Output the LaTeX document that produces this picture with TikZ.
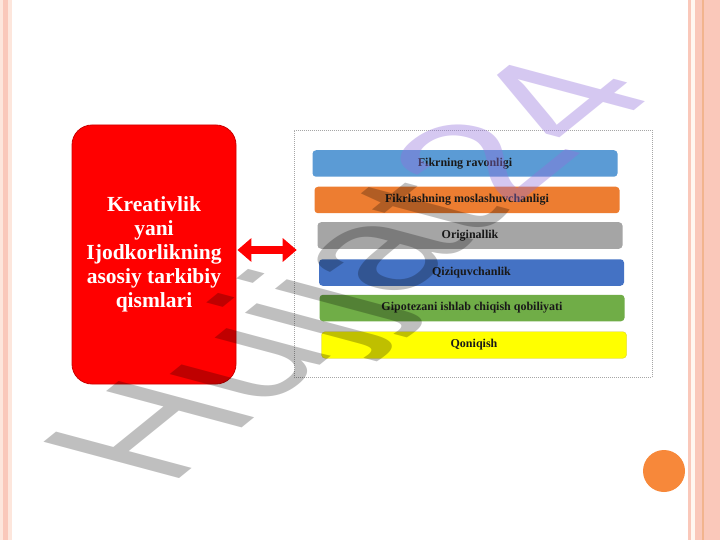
\documentclass[tikz,border=0pt]{standalone}
\usepackage{fontspec}
\setmainfont{Liberation Serif}
\newfontfamily\wmfont{Liberation Sans}
\usetikzlibrary{arrows.meta}
\definecolor{salmon1}{HTML}{FAC8BA}
\definecolor{salmonL}{HTML}{FDE6DC}
\definecolor{cream1}{HTML}{FFF7F0}
\definecolor{orline}{HTML}{F2B48E}
\definecolor{dotorange}{HTML}{F7883A}
\definecolor{boxred}{HTML}{FF0000}
\definecolor{cBlue}{HTML}{5B9BD5}
\definecolor{cOrange}{HTML}{ED7D31}
\definecolor{cGray}{HTML}{A5A5A5}
\definecolor{cDBlue}{HTML}{4472C4}
\definecolor{cGreen}{HTML}{70AD47}
\definecolor{cYellow}{HTML}{FFFF00}
\definecolor{wmpurple}{HTML}{9370DB}
\tikzset{
  redbox/.style={rectangle, rounded corners=20pt, fill=boxred, draw=boxred!80!black,
    line width=0.8pt, minimum width=164pt, minimum height=259pt, inner sep=0pt,
    text=white, align=center, font=\bfseries\fontsize{21.5}{24}\selectfont},
  framebox/.style={rectangle, draw=gray!70, line width=0.6pt, dash pattern=on 1pt off 1pt,
    minimum width=358pt, minimum height=247pt, inner sep=0pt},
  bar/.style={rectangle, rounded corners=3.5pt, minimum width=305pt, minimum height=26.5pt,
    inner sep=0pt, text=black!90, font=\bfseries\fontsize{12}{14}\selectfont},
  bigarrow/.style={draw=boxred, line width=7.5pt,
    {Triangle[length=14pt,width=23pt]}-{Triangle[length=14pt,width=23pt]}},
  wmark/.style={anchor=base west, inner sep=0pt, font=\wmfont\fontsize{100}{100}\selectfont,
    cm={1.345,1.089,-1.971,0.528,(0,0)}}
}
\begin{document}
\begin{tikzpicture}[x=1pt,y=-1pt]
\useasboundingbox (0,0) rectangle (720,540);
\fill[white] (0,0) rectangle (720,540);
% side borders
\fill[salmonL] (0,0) rectangle (3,540);
\fill[salmon1] (3,0) rectangle (7.5,540);
\fill[salmonL] (7.5,0) rectangle (12,540);
\fill[salmon1] (688,0) rectangle (720,540);
\fill[cream1] (690.5,0) rectangle (695,540);
\fill[orline] (701.5,0) rectangle (703.5,540);
% orange dot
\fill[dotorange] (664,471) circle[radius=21pt];
% main box
\node[redbox] (rb) at (154,254.5) {Kreativlik\\yani\\Ijodkorlikning\\asosiy tarkibiy\\qismlari};
% frame
\node[framebox] (fr) at (473,253.5) {};
% bars
\node[bar, fill=cBlue]   (b1) at (465,163.5) {Fikrning ravonligi};
\node[bar, fill=cOrange] (b2) at (467,200)   {Fikrlashning moslashuvchanligi};
\node[bar, fill=cGray]   (b3) at (470,235.5) {Originallik};
\node[bar, fill=cDBlue]  (b4) at (471.5,272.5) {Qiziquvchanlik};
\node[bar, fill=cGreen]  (b5) at (472,308)   {Gipotezani ishlab chiqish qobiliyati};
\node[bar, fill=cYellow, draw=yellow!80!black, line width=0.3pt] (b6) at (474,345) {Qoniqish};
% arrow
\draw[bigarrow] ([shift={(1,-4.5)}]rb.east) -- ([shift={(3,-3.5)}]fr.west);
% watermark
\begin{scope}[shift={(168,488)}]
\node[wmark, text opacity=0.25, text=black] (wm1) at (0,0) {Hujjat};
\end{scope}
\node[wmark, text opacity=0.38, text=wmpurple] (wm2) at (wm1.base east) {24};
\end{tikzpicture}
\end{document}
